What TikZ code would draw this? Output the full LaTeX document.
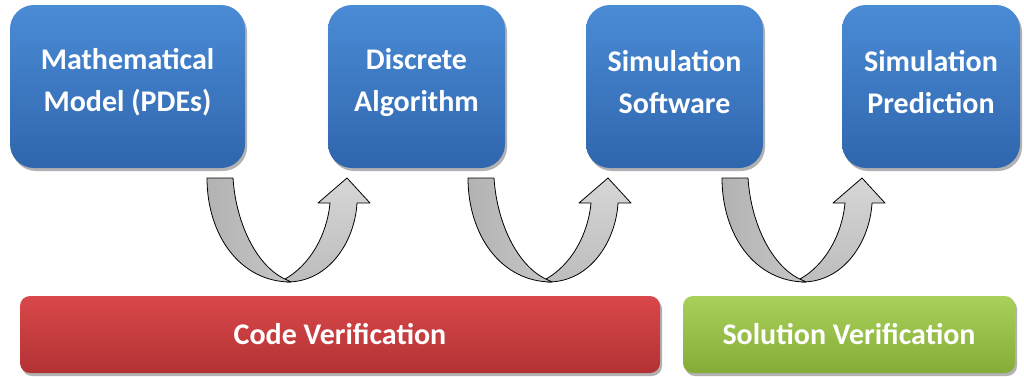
\documentclass[tikz,border=0pt]{standalone}
\usepackage{fontspec}
\setmainfont{Carlito}
\usetikzlibrary{shadows}
\definecolor{bluetop}{HTML}{4A8BD6}
\definecolor{bluebot}{HTML}{2F66AD}
\definecolor{redtop}{HTML}{D9484A}
\definecolor{redbot}{HTML}{B33234}
\definecolor{greentop}{HTML}{A8D05A}
\definecolor{greenbot}{HTML}{86AC38}
\tikzset{
  box/.style={rounded corners=24pt, top color=bluetop, bottom color=bluebot,
    minimum height=163pt, inner sep=0pt,
    drop shadow={shadow xshift=2pt, shadow yshift=-3pt, opacity=0.3, fill=black}},
  boxtext/.style={text=white, align=center, font=\fontsize{30}{42}\bfseries\selectfont},
  bar/.style={rounded corners=10pt, minimum height=77pt, inner sep=0pt,
    text=white, font=\fontsize{30}{36}\bfseries\selectfont,
    drop shadow={shadow xshift=2pt, shadow yshift=-3pt, opacity=0.3, fill=black}},
  arrowpiece/.style={draw=black, line width=0.8pt, line join=round},
  uarrow/.pic={
    \path[arrowpiece, top color=black!16, bottom color=black!26]
      (78,101) .. controls (103,87) and (120,57) .. (123,25) -- (111,25) -- (140,0)
      -- (163,25) -- (150,25) .. controls (148,62) and (123,104) .. (80,104) -- cycle;
    \path[arrowpiece, left color=black!30, right color=black!22]
      (0,0) -- (26,0) .. controls (29,47) and (51,90) .. (80,102) -- (84,104)
      .. controls (33,104) and (0,57) .. (0,0) -- cycle;
  }
}
\begin{document}
\begin{tikzpicture}[x=1pt,y=-1pt]
\useasboundingbox (0,0) rectangle (1024,376);
% boxes
\node[box, minimum width=235pt] (b1) at (127.5,86.5) {};
\node[box, minimum width=177pt] (b2) at (416.5,86.5) {};
\node[box, minimum width=177pt] (b3) at (674.5,86.5) {};
\node[box, minimum width=178pt] (b4) at (931,86.5) {};
\node[boxtext] (t1) at ([yshift=4pt]b1.center) {Mathematical\\Model (PDEs)};
\node[boxtext] (t2) at ([yshift=4pt]b2.center) {Discrete\\Algorithm};
\node[boxtext] (t3) at ([yshift=4pt]b3.center) {Simulation\\Software};
\node[boxtext] (t4) at ([yshift=4pt]b4.center) {Simulation\\Prediction};
% U arrows
\pic at (207,178) {uarrow};
\pic at (468,178) {uarrow};
\pic at (722,178) {uarrow};
% bars
\node[bar, top color=redtop, bottom color=redbot, minimum width=640pt] (cv) at (340,334.5) {\raisebox{-2.5pt}{Code Verification}};
\node[bar, top color=greentop, bottom color=greenbot, minimum width=332pt] (sv) at (849,334.5) {\raisebox{-2.5pt}{Solution Verification}};
\end{tikzpicture}
\end{document}
